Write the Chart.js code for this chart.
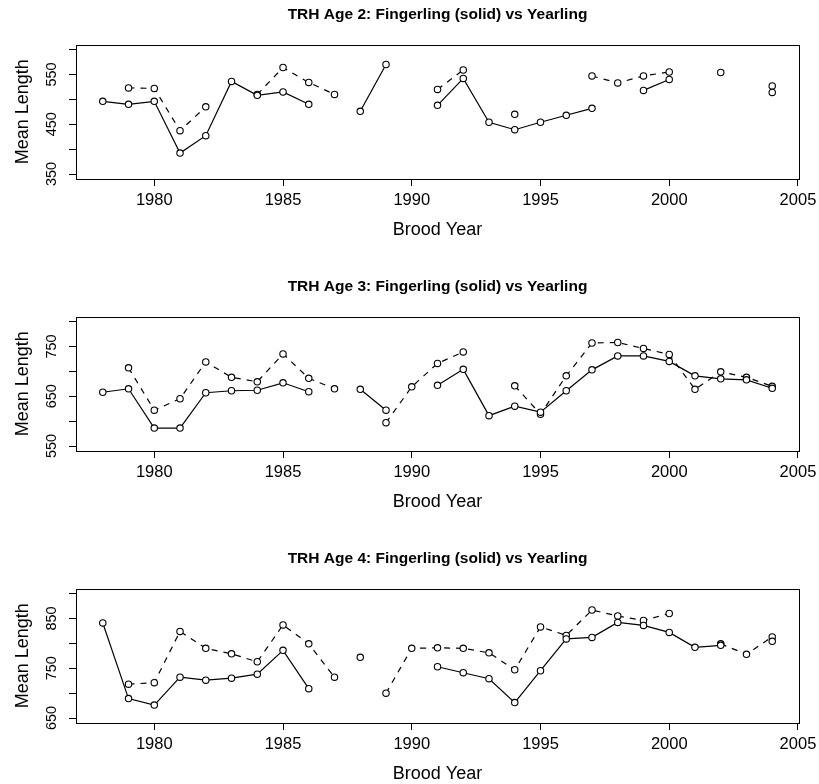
<!DOCTYPE html>
<html>
<head>
<meta charset="utf-8">
<script src="https://cdn.jsdelivr.net/npm/chart.js@4"></script>
<style>
  html, body { margin: 0; padding: 0; background: #fff; overflow: hidden; }
  body { width: 819px; height: 784px; position: relative; }
  canvas { position: absolute; left: 0; }
</style>
</head>
<body>
<canvas id="age2" width="819" height="272" style="top:0px"></canvas>
<canvas id="age3" width="819" height="272" style="top:272px"></canvas>
<canvas id="age4" width="819" height="272" style="top:544px"></canvas>
<script>
// brood years 1978 - 2004
const years = [1978, 1979, 1980, 1981, 1982, 1983, 1984, 1985, 1986, 1987, 1988, 1989, 1990,
  1991, 1992, 1993, 1994, 1995, 1996, 1997, 1998, 1999, 2000, 2001, 2002, 2003, 2004];

// mean length, fingerling (solid) and yearling (dashed)
const fing2 = [496, 490, 496, 392, 427, 536, 508, 515, 490, null, 476, 570, null,
  488, 542, 454, 439, 454, 468, 482, null, 518, 540, null, null, null, 514];
const year2 = [null, 523, 522, 437, 485, null, 510, 564, 534, 510, null, null, null,
  520, 559, null, 470, null, null, 547, 533, 547, 555, null, 554, null, 527];

const fing3 = [658, 665, 586, 586, 657, 661, 662, 677, 659, null, 664, 622, null,
  672, 704, 611, 630, 618, 661, 703, 731, 731, 720, 691, 685, 683, 666];
const year3 = [null, 707, 622, 645, 719, 688, 679, 735, 686, 665, null, 597, 669,
  716, 739, null, 671, 614, 691, 757, 758, 746, 734, 664, 699, 688, 670];

const fing4 = [841, 689, 676, 732, 726, 730, 738, 786, 709, null, 772, null, null,
  753, 741, 729, 681, 745, 809, 812, 842, 836, 822, 792, 796, null, 804];
const year4 = [null, 718, 721, 824, 790, 779, 763, 837, 799, 732, null, 700, 790,
  791, 790, 781, 747, 833, 816, 867, 855, 846, 860, null, 799, 778, 813];

// axis ticks
const xTicks = [1980, 1985, 1990, 1995, 2000, 2005];
const yTicks2 = [350, 400, 450, 500, 550, 600];
const yLabels2 = [350, 450, 550];
const yTicks3 = [550, 600, 650, 700, 750, 800];
const yLabels3 = [550, 650, 750];
const yTicks4 = [650, 700, 750, 800, 850, 900];
const yLabels4 = [650, 750, 850];

Chart.defaults.font.family = "'Liberation Sans', Arial, sans-serif";
Chart.defaults.color = '#000';

// frame round the plot region
const boxPlugin = {
  id: 'box',
  afterDraw(chart) {
    const a = chart.chartArea, ctx = chart.ctx;
    ctx.save();
    ctx.strokeStyle = '#000';
    ctx.lineWidth = 1;
    ctx.strokeRect(Math.round(a.left) + 0.5, Math.round(a.top) + 0.5,
      Math.round(a.right - a.left), Math.round(a.bottom - a.top));
    ctx.restore();
  }
};

function series(vals) {
  return years.map((y, i) => ({ x: y, y: vals[i] }));
}

function makePanel(id, title, fing, year, yMin, yMax, yTicks, yLabels) {
  const common = {
    borderColor: '#000',
    borderWidth: 1.2,
    pointRadius: 3.2,
    pointBorderWidth: 1.1,
    pointBorderColor: '#000',
    pointBackgroundColor: '#fff',
    spanGaps: false,
    tension: 0
  };
  return new Chart(document.getElementById(id), {
    type: 'line',
    data: {
      datasets: [
        Object.assign({ label: 'Fingerling', data: series(fing) }, common),
        Object.assign({ label: 'Yearling', data: series(year), borderDash: [6, 6] }, common)
      ]
    },
    options: {
      responsive: false,
      animation: false,
      layout: { padding: { left: 0, right: 20, top: 0, bottom: 0 } },
      plugins: {
        legend: { display: false },
        tooltip: { enabled: false },
        title: {
          display: true,
          fullSize: false,
          text: title,
          color: '#000',
          font: { size: 15.5, weight: 'bold' },
          padding: { top: 5, bottom: 21 }
        }
      },
      scales: {
        x: {
          type: 'linear',
          min: 1976.96,
          max: 2005.04,
          afterBuildTicks: s => { s.ticks = xTicks.map(v => ({ value: v })); },
          afterFit: s => { s.height = 93; s.paddingLeft = 0; s.paddingRight = 0; },
          grid: { drawOnChartArea: false, tickLength: 7, color: '#000' },
          border: { display: false },
          ticks: {
            font: { size: 16.5 }, color: '#000', padding: 5, maxRotation: 0, autoSkip: false,
            callback: v => String(v)
          },
          title: { display: true, text: 'Brood Year', font: { size: 18 }, color: '#000', padding: { top: 0, bottom: 31 } }
        },
        y: {
          min: yMin,
          max: yMax,
          afterBuildTicks: s => { s.ticks = yTicks.map(v => ({ value: v })); },
          afterFit: s => { s.width = 76; },
          grid: { drawOnChartArea: false, tickLength: 7, color: '#000' },
          border: { display: false },
          ticks: {
            font: { size: 14.5 }, color: '#000', padding: 5,
            minRotation: 90, maxRotation: 90, crossAlign: 'center', autoSkip: false,
            callback: v => yLabels.includes(v) ? String(v) : ''
          },
          title: { display: true, text: 'Mean Length', font: { size: 18 }, color: '#000', padding: { top: 12.5, bottom: 0 } }
        }
      }
    },
    plugins: [boxPlugin]
  });
}

makePanel('age2', 'TRH Age 2: Fingerling (solid) vs Yearling', fing2, year2, 340, 610, yTicks2, yLabels2);
makePanel('age3', 'TRH Age 3: Fingerling (solid) vs Yearling', fing3, year3, 540, 810, yTicks3, yLabels3);
makePanel('age4', 'TRH Age 4: Fingerling (solid) vs Yearling', fing4, year4, 640, 910, yTicks4, yLabels4);
</script>
</body>
</html>
